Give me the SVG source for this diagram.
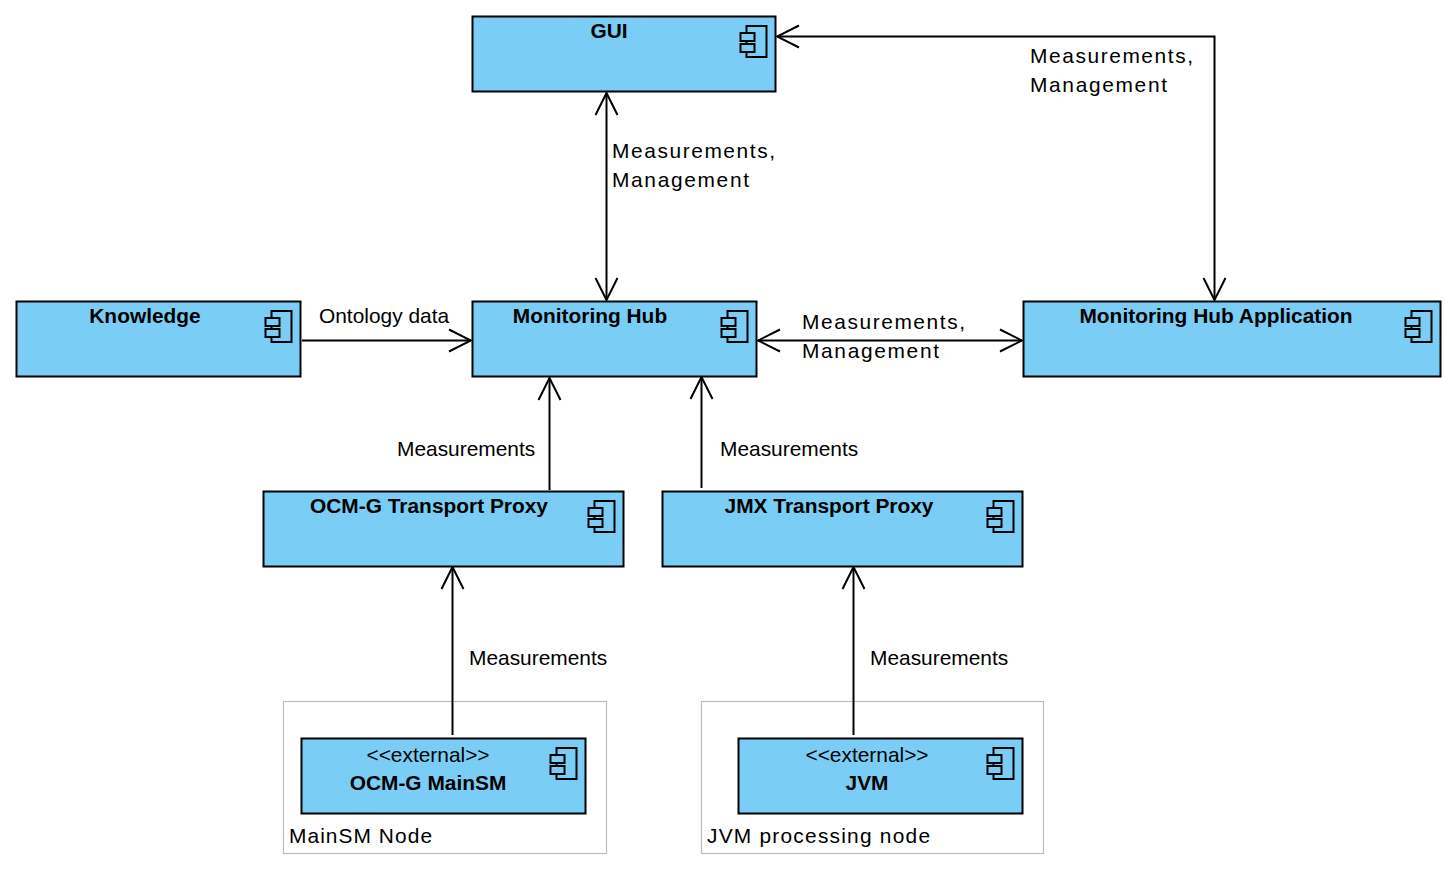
<svg xmlns="http://www.w3.org/2000/svg" width="1454" height="873" viewBox="0 0 1454 873">
<style>
text{font-family:"Liberation Sans",Arial,sans-serif;font-size:20.9px;fill:#000}
.b{font-weight:bold}
.box{fill:#7ACEF5;stroke:#000;stroke-width:2}
.ic{fill:#7ACEF5;stroke:#000;stroke-width:2}
.frame{fill:#fff;stroke:#bdbdbd;stroke-width:1.2}
.c{fill:none;stroke:#000;stroke-width:2}
</style>
<defs>
<g id="icon"><rect class="ic" x="6" y="0" width="20" height="31"/><rect class="ic" x="0" y="7" width="14" height="8"/><rect class="ic" x="0" y="18" width="14" height="8"/></g>
<marker id="ah" markerUnits="userSpaceOnUse" markerWidth="26" markerHeight="28" refX="25" refY="14" orient="auto-start-reverse" viewBox="0 0 26 28"><path d="M3 3L25 14L3 25" fill="none" stroke="#000" stroke-width="2"/></marker>
</defs>
<g id="frame-mainsm"><rect class="frame" x="283.500" y="701.500" width="323" height="152"/><text x="289" y="843" textLength="143" lengthAdjust="spacing">MainSM Node</text></g>
<g id="frame-jvm"><rect class="frame" x="701.500" y="701.500" width="342" height="152"/><text x="707" y="843" textLength="223" lengthAdjust="spacing">JVM processing node</text></g>
<g id="gui"><rect class="box" x="472.500" y="16.500" width="303" height="75"/><use href="#icon" x="740.500" y="26"/><text class="b" x="609" y="38" text-anchor="middle">GUI</text></g>
<g id="knowledge"><rect class="box" x="16.500" y="301.500" width="284" height="75"/><use href="#icon" x="265.500" y="311"/><text class="b" x="145" y="323" text-anchor="middle">Knowledge</text></g>
<g id="hub"><rect class="box" x="472.500" y="301.500" width="284" height="75"/><use href="#icon" x="721.500" y="311"/><text class="b" x="590" y="323" text-anchor="middle">Monitoring Hub</text></g>
<g id="hub-app"><rect class="box" x="1023.500" y="301.500" width="417" height="75"/><use href="#icon" x="1405.500" y="311"/><text class="b" x="1216" y="323" text-anchor="middle">Monitoring Hub Application</text></g>
<g id="ocm-proxy"><rect class="box" x="263.500" y="491.500" width="360" height="75"/><use href="#icon" x="588.500" y="501"/><text class="b" x="429" y="513" text-anchor="middle">OCM-G Transport Proxy</text></g>
<g id="jmx-proxy"><rect class="box" x="662.500" y="491.500" width="360" height="75"/><use href="#icon" x="987.500" y="501"/><text class="b" x="829" y="513" text-anchor="middle">JMX Transport Proxy</text></g>
<g id="ocm-mainsm"><rect class="box" x="301.500" y="738.500" width="284" height="75"/><use href="#icon" x="550.500" y="748"/><text x="428" y="762" text-anchor="middle">&lt;&lt;external&gt;&gt;</text><text class="b" x="428" y="790" text-anchor="middle">OCM-G MainSM</text></g>
<g id="jvm"><rect class="box" x="738.500" y="738.500" width="284" height="75"/><use href="#icon" x="987.500" y="748"/><text x="867" y="762" text-anchor="middle">&lt;&lt;external&gt;&gt;</text><text class="b" x="867" y="790" text-anchor="middle">JVM</text></g>
<g id="connectors">
<path class="c" d="M606.500 93V300" marker-start="url(#ah)" marker-end="url(#ah)"/>
<path class="c" d="M777 36.500H1214.500V300" marker-start="url(#ah)" marker-end="url(#ah)"/>
<path class="c" d="M758 340.500H1022" marker-start="url(#ah)" marker-end="url(#ah)"/>
<path class="c" d="M302 340.500H471" marker-end="url(#ah)"/>
<path class="c" d="M549.500 490V378" marker-end="url(#ah)"/>
<path class="c" d="M701.500 488V377" marker-end="url(#ah)"/>
<path class="c" d="M452.500 735V567" marker-end="url(#ah)"/>
<path class="c" d="M853.500 735V567" marker-end="url(#ah)"/>
</g>
<g id="labels">
<text x="612" y="158" textLength="163" lengthAdjust="spacing">Measurements,</text>
<text x="612" y="187" textLength="137" lengthAdjust="spacing">Management</text>
<text x="1030" y="63" textLength="163" lengthAdjust="spacing">Measurements,</text>
<text x="1030" y="92" textLength="137" lengthAdjust="spacing">Management</text>
<text x="802" y="329" textLength="163" lengthAdjust="spacing">Measurements,</text>
<text x="802" y="358" textLength="137" lengthAdjust="spacing">Management</text>
<text x="319" y="323">Ontology data</text>
<text x="397" y="456">Measurements</text>
<text x="720" y="456">Measurements</text>
<text x="469" y="665">Measurements</text>
<text x="870" y="665">Measurements</text>
</g>
</svg>
